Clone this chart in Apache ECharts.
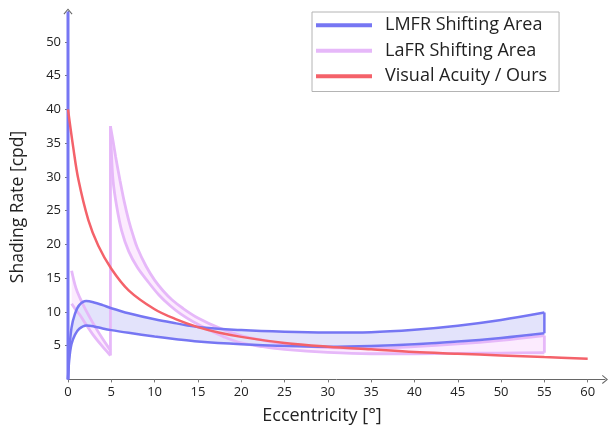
<!DOCTYPE html>
<html><head><meta charset="utf-8">
<script src="https://cdn.jsdelivr.net/npm/echarts@6/dist/echarts.min.js"></script>
<style>html,body{margin:0;padding:0;background:#fff}#c{width:609px;height:430px}</style>
</head><body><div id="c"></div>
<script>
// ---- tick labels ----
const xTickLabels = [0, 5, 10, 15, 20, 25, 30, 35, 40, 45, 50, 55, 60];
const yTickLabels = [5, 10, 15, 20, 25, 30, 35, 40, 45, 50];
const seriesNames = ['LMFR Shifting Area', 'LaFR Shifting Area', 'Visual Acuity / Ours'];

// ---- LMFR shifting area ----
const lmfrX      = [0, 0.15, 0.4, 0.8, 1.3, 2.1, 3, 4, 5, 7, 10, 12.5, 15, 20, 25, 30, 35, 40, 45, 50, 55];
const lmfrUpper  = [0, 4.2, 7.6, 9.7, 11.0, 11.6, 11.4, 11.0, 10.55, 9.8, 8.9, 8.3, 7.75, 7.3, 7.05, 6.95, 7.0, 7.35, 7.95, 8.8, 9.9];
const lmfrLower  = [0, 3.0, 5.2, 6.6, 7.5, 8.0, 7.85, 7.55, 7.3, 6.9, 6.35, 5.95, 5.6, 5.2, 4.95, 4.85, 4.95, 5.2, 5.6, 6.15, 6.85];
const lmfrAxisX  = [0, 0];
const lmfrAxisY  = [0, 54.5];
const lmfrEndX   = [55, 55];
const lmfrEndY   = [6.85, 9.9];

// ---- LaFR shifting area ----
const lafrLeftX      = [0.42, 0.9, 1.4, 2.0, 2.9, 3.9, 4.9];
const lafrLeftUpper  = [16.1, 13.6, 12.0, 10.4, 8.3, 6.2, 4.3];
const lafrLeftLower  = [11.2, 10.3, 9.5, 8.3, 6.6, 5.0, 3.55];
const lafrStepX      = [4.9, 4.9];
const lafrStepY      = [3.55, 37.5];
const lafrUpperX     = [4.9, 5.2, 5.5, 6.0, 6.5, 7.0, 7.5, 8.0, 9.0, 10, 11, 12, 13.3, 15, 17.5, 20, 22.5, 25, 30, 35, 40, 45, 50, 55];
const lafrUpperY     = [37.5, 35.3, 33.0, 29.5, 26.3, 23.6, 21.4, 19.5, 16.8, 14.7, 13.1, 11.8, 10.5, 9.1, 7.6, 6.5, 5.8, 5.25, 4.7, 4.6, 4.85, 5.25, 5.8, 6.5];
const lafrLowerX     = [4.9, 5.0, 5.2, 5.6, 6.2, 7.0, 8.0, 9.1, 10.5, 11.8, 13, 14.5, 16.4, 18, 20, 22.5, 25, 30, 35, 40, 45, 50, 55];
const lafrLowerY     = [37.5, 34.0, 29.5, 25.8, 22.0, 19.0, 16.6, 14.7, 12.5, 10.9, 9.7, 8.5, 7.25, 6.3, 5.4, 4.85, 4.45, 4.0, 3.8, 3.8, 3.85, 3.9, 3.95];
const lafrEndX       = [55, 55];
const lafrEndY       = [3.95, 6.5];

// ---- Visual acuity ----
const acuityX = [0, 0.6, 1.2, 2.35, 3.5, 5, 7, 10, 12.5, 15, 17.5, 20, 25, 30, 35, 40, 45, 50, 55, 60];
const acuityY = [40, 34.4, 29.6, 23.6, 19.8, 16.4, 13.2, 10.4, 8.9, 7.75, 6.9, 6.3, 5.4, 4.85, 4.45, 4.05, 3.8, 3.55, 3.3, 3.07];

const BLUE = '#7676f3', BLUE_FILL = '#e3e3fb';
const PINK = '#e6b8f9', PINK_FILL = '#fcebfe';
const RED = '#f4626a';
const FONT = 'Open Sans';

function pairs(xs, ys) { return xs.map((x, i) => [x, ys[i]]); }
function lineSeries(name, xs, ys, color, width, z, smooth) {
  return {
    type: 'line', name: name, data: pairs(xs, ys), symbol: 'none', showSymbol: false,
    smooth: smooth ? 0.35 : false,
    lineStyle: { color: color, width: width }, itemStyle: { color: color },
    z: z, silent: true, animation: false
  };
}
function areaSeries(name, xs1, ys1, xs2, ys2, color, z) {
  return {
    type: 'custom', name: name, coordinateSystem: 'cartesian2d', silent: true, z: z,
    data: [[xs1[0], ys1[0]]],
    renderItem: function (params, api) {
      const pts = [];
      for (let i = 0; i < xs1.length; i++) pts.push(api.coord([xs1[i], ys1[i]]));
      for (let i = xs2.length - 1; i >= 0; i--) pts.push(api.coord([xs2[i], ys2[i]]));
      return { type: 'polygon', shape: { points: pts }, style: { fill: color } };
    },
    animation: false
  };
}

const chevron = 'path://M0,6 L5,0 L10,6 L9.1,6.7 L5,1.7 L0.9,6.7 Z';

const option = {
  animation: false,
  backgroundColor: '#fff',
  grid: { left: 68, right: 4, top: 11.5, bottom: 50.6, containLabel: false },
  xAxis: {
    type: 'value', min: 0, max: 62,
    axisLine: { show: true, lineStyle: { color: '#666', width: 1 }, symbol: ['none', chevron], symbolSize: [10, 6] },
    axisTick: { show: true, length: 3, lineStyle: { color: '#777' }, customValues: xTickLabels },
    axisLabel: { customValues: xTickLabels, color: '#222', fontFamily: FONT, fontSize: 13, margin: 6 },
    splitLine: { show: false }
  },
  yAxis: {
    type: 'value', min: 0, max: 54.5,
    axisLine: { show: true, onZero: false, lineStyle: { color: '#666', width: 1 }, symbol: ['none', chevron], symbolSize: [10, 6] },
    axisTick: { show: true, length: 3, lineStyle: { color: '#777' }, customValues: yTickLabels },
    axisLabel: { customValues: yTickLabels, color: '#222', fontFamily: FONT, fontSize: 13, margin: 7 },
    splitLine: { show: false }
  },
  legend: {
    orient: 'vertical', left: 312, top: 12,
    data: seriesNames.map(n => ({ name: n, icon: 'rect' })),
    padding: [4, 12, 6, 4], itemGap: 7, itemWidth: 56, itemHeight: 4,
    borderColor: '#b4b4b4', borderWidth: 1, borderRadius: 0, backgroundColor: '#fff',
    textStyle: { fontFamily: FONT, fontSize: 18, color: '#222', padding: [0, 0, 0, 8], lineHeight: 18.5 }
  },
  graphic: [
    { type: 'text', x: 322, y: 416, style: { text: 'Eccentricity [°]', font: '18px ' + FONT, fill: '#222', align: 'center', verticalAlign: 'middle' } },
    { type: 'text', x: 18, y: 207, rotation: Math.PI / 2, style: { text: 'Shading Rate [cpd]', font: '17.5px ' + FONT, fill: '#222', align: 'center', verticalAlign: 'middle' } }
  ],
  series: [
    lineSeries(seriesNames[0], lmfrX, lmfrUpper, BLUE, 2.5, 6, true),
    lineSeries(seriesNames[1], lafrUpperX, lafrUpperY, PINK, 2.8, 4, true),
    lineSeries(seriesNames[2], acuityX, acuityY, RED, 2.5, 8, true),
    lineSeries(seriesNames[0], lmfrX, lmfrLower, BLUE, 2.5, 6, true),
    lineSeries(seriesNames[0], lmfrAxisX, lmfrAxisY, BLUE, 3, 6, false),
    lineSeries(seriesNames[0], lmfrEndX, lmfrEndY, BLUE, 2.5, 6, false),
    lineSeries(seriesNames[1], lafrLowerX, lafrLowerY, PINK, 2.8, 4, true),
    lineSeries(seriesNames[1], lafrLeftX, lafrLeftUpper, PINK, 2.8, 4, true),
    lineSeries(seriesNames[1], lafrLeftX, lafrLeftLower, PINK, 2.8, 4, true),
    lineSeries(seriesNames[1], lafrStepX, lafrStepY, PINK, 2.8, 4, false),
    lineSeries(seriesNames[1], lafrEndX, lafrEndY, PINK, 2.8, 4, false),
    areaSeries('LaFR fill left', lafrLeftX, lafrLeftUpper, lafrLeftX, lafrLeftLower, PINK_FILL, 1),
    areaSeries('LaFR fill right', lafrUpperX, lafrUpperY, lafrLowerX, lafrLowerY, PINK_FILL, 1),
    areaSeries('LMFR fill', lmfrX, lmfrUpper, lmfrX, lmfrLower, BLUE_FILL, 2)
  ]
};
const chart = echarts.init(document.getElementById('c'), null, { renderer: 'canvas' });
chart.setOption(option);
</script></body></html>
